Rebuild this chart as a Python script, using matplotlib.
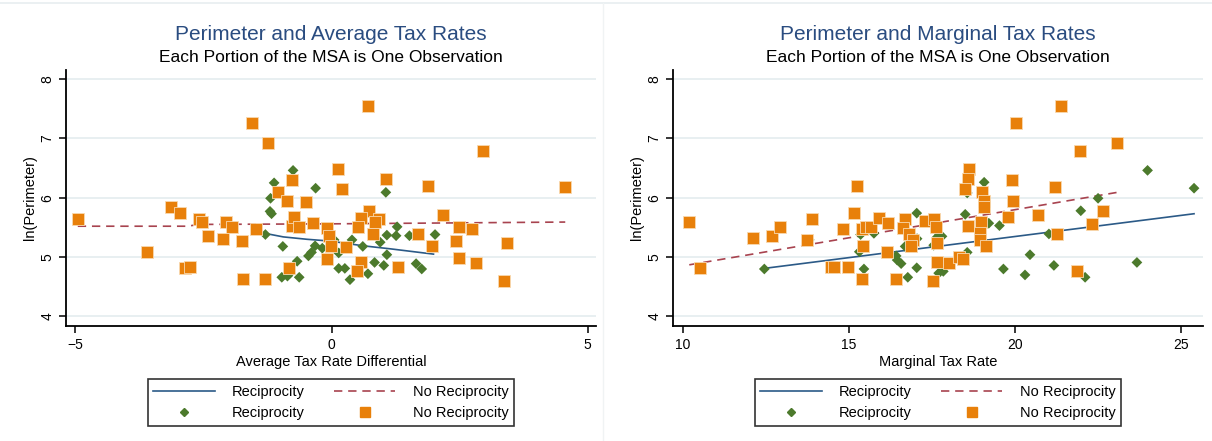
import matplotlib.pyplot as plt
from matplotlib.lines import Line2D

plt.rcParams['font.family'] = ['Liberation Sans', 'DejaVu Sans']

# average tax rate differential vs ln(perimeter)
avg_recip_x = [-1.29, -1.19, -1.12, -1.20, -1.17, -0.95, -0.97, -0.86, -0.81, -0.75,
               -0.67, -0.63, -0.45, -0.39, -0.32, -0.31, -0.18, 0.14, 0.14, 0.26,
               0.36, 0.05, 0.40, 0.61, 1.06, 0.95, 1.08, 1.28, 1.26, 1.52,
               2.02, 1.08, 0.84, 1.02, 0.71, 1.65, 1.76]
avg_recip_y = [5.38, 5.99, 6.25, 5.77, 5.73, 5.18, 4.66, 4.68, 4.73, 6.46,
               4.93, 4.66, 5.02, 5.08, 5.19, 6.16, 5.15, 5.07, 4.81, 4.81,
               4.62, 5.29, 5.29, 5.18, 6.09, 5.25, 5.37, 5.51, 5.36, 5.36,
               5.38, 5.04, 4.91, 4.86, 4.72, 4.89, 4.80]

avg_norecip_x = [-4.95, -3.60, -3.13, -2.95, -2.86, -2.76, -2.58, -2.53, -2.40, -2.11,
                 -2.06, -1.95, -1.74, -1.72, -1.55, -1.47, -1.30, -1.23, -1.05, -0.86,
                 -0.82, -0.78, -0.78, -0.73, -0.63, -0.50, -0.37, 0.12, 0.20, -0.08,
                 -0.04, -0.01, -0.08, 0.28, 0.71, 1.06, 1.88, 2.96, 4.56, 2.18,
                 0.73, 0.58, 0.93, 0.84, 0.52, 0.80, 1.69, 1.97, 2.49, 2.74,
                 2.42, 3.43, 2.49, 2.81, 3.36, 1.30, 0.58, 0.49]
avg_norecip_y = [5.64, 5.08, 5.84, 5.75, 4.81, 4.84, 5.64, 5.59, 5.35, 5.30,
                 5.59, 5.51, 5.27, 4.63, 7.25, 5.48, 4.63, 6.92, 6.10, 5.95,
                 4.82, 6.30, 5.53, 5.68, 5.50, 5.92, 5.58, 6.48, 6.15, 5.49,
                 5.35, 5.19, 4.96, 5.17, 7.55, 6.31, 6.20, 6.79, 6.18, 5.71,
                 5.78, 5.66, 5.64, 5.59, 5.51, 5.39, 5.39, 5.19, 5.50, 5.48,
                 5.27, 5.23, 4.99, 4.90, 4.60, 4.83, 4.92, 4.76]

# smoothed fits, average tax rate panel
avg_fit_recip_x = [-1.30, -0.94, -0.48, -0.03, 0.62, 1.14, 1.99]
avg_fit_recip_y = [5.40, 5.34, 5.30, 5.27, 5.19, 5.14, 5.05]
avg_fit_norecip_x = [-4.95, -2.80, -2.60, 0.00, 4.56]
avg_fit_norecip_y = [5.52, 5.52, 5.55, 5.56, 5.59]

# marginal tax rate vs ln(perimeter)
mtr_recip_x = [12.45, 13.80, 15.31, 15.35, 15.45, 15.75, 16.42, 16.45, 16.57, 16.77,
               16.69, 17.04, 17.05, 17.04, 17.72, 17.80, 17.66, 17.55, 17.70, 17.84,
               18.56, 18.50, 18.56, 19.07, 19.21, 19.08, 19.53, 19.65, 20.30, 20.45,
               21.02, 21.17, 21.98, 22.11, 22.50, 23.67, 23.99, 25.39]
mtr_recip_y = [4.80, 5.29, 5.09, 5.38, 4.80, 5.40, 5.02, 4.95, 4.89, 4.66,
               5.18, 5.74, 5.31, 4.82, 5.37, 5.35, 5.34, 5.20, 4.73, 4.76,
               5.08, 5.72, 6.08, 6.26, 5.57, 5.25, 5.53, 4.80, 4.70, 5.04,
               5.39, 4.86, 5.78, 4.66, 5.99, 4.91, 6.46, 6.16]

mtr_norecip_x = [10.19, 10.51, 12.12, 12.68, 12.92, 13.73, 13.89, 14.47, 14.55, 14.82,
                 14.97, 15.14, 15.25, 15.38, 15.51, 15.65, 15.41, 15.38, 15.89, 16.17,
                 16.14, 16.42, 16.69, 16.62, 16.82, 16.92, 16.86, 17.30, 17.56, 17.62,
                 17.66, 17.66, 18.02, 17.54, 18.32, 18.42, 18.62, 18.58, 18.50, 18.59,
                 19.00, 19.07, 19.07, 18.97, 18.95, 18.95, 19.13, 20.03, 19.91, 19.95,
                 19.79, 20.68, 21.20, 21.39, 21.96, 23.08, 21.27, 22.32, 22.64, 21.88]
mtr_norecip_y = [5.59, 4.81, 5.32, 5.35, 5.50, 5.29, 5.64, 4.83, 4.84, 5.48,
                 4.83, 5.75, 6.20, 5.48, 5.50, 5.50, 5.19, 4.63, 5.66, 5.57,
                 5.08, 4.63, 5.64, 5.49, 5.39, 5.29, 5.18, 5.60, 5.64, 5.50,
                 5.24, 4.92, 4.90, 4.60, 5.00, 4.97, 6.49, 6.31, 6.15, 5.53,
                 6.10, 5.95, 5.85, 5.59, 5.40, 5.29, 5.19, 7.26, 6.29, 5.95,
                 5.68, 5.71, 6.18, 7.55, 6.79, 6.92, 5.39, 5.55, 5.78, 4.76]

# linear fits, marginal tax rate panel
mtr_fit_recip_x = [12.45, 25.39]
mtr_fit_recip_y = [4.81, 5.73]
mtr_fit_norecip_x = [10.19, 23.08]
mtr_fit_norecip_y = [4.87, 6.09]

y_ticks = [4, 5, 6, 7, 8]

BLUE = '#2b5a87'
RED = '#a8434f'
GREEN = '#4c7a2c'
ORANGE = '#e8800a'
TITLE_BLUE = '#2a4c80'
GRID = '#e6eef0'

W, H = 1212, 441
fig = plt.figure(figsize=(W / 100, H / 100), dpi=100)

# faint frame lines around the two graph regions
fig.add_artist(Line2D([0, 1], [1 - 3 / H, 1 - 3 / H], color='#e8eef0', lw=1.2))
fig.add_artist(Line2D([603 / W, 603 / W], [0, 1 - 3 / H], color='#f0f3f4', lw=1.0))


def px_axes(x0, x1, y0, y1):
    return fig.add_axes([x0 / W, 1 - y1 / H, (x1 - x0) / W, (y1 - y0) / H])


def draw_panel(ax, title, xlabel, xlim, xticks,
               rx, ry, nx, ny, frx, fry, fnx, fny):
    ax.set_xlim(*xlim)
    ax.set_ylim(3.84, 8.15)
    for y in y_ticks:
        ax.axhline(y, color=GRID, lw=1.3, zorder=0)
    ax.plot(frx, fry, color=BLUE, lw=1.2, zorder=3)
    ax.plot(fnx, fny, color=RED, lw=1.2, ls=(0, (5, 3.5)), zorder=3)
    ax.scatter(rx, ry, marker='D', s=30, color=GREEN, edgecolors='none', zorder=4)
    ax.scatter(nx, ny, marker='s', s=70, color=ORANGE, edgecolors='#f8d9b0',
               linewidths=0.6, zorder=5)

    for side in ('top', 'right'):
        ax.spines[side].set_visible(False)
    for side in ('left', 'bottom'):
        ax.spines[side].set_linewidth(1.3)
    ax.set_xticks(xticks)
    ax.set_yticks(y_ticks)
    ax.tick_params(direction='out', length=5, width=1.1, labelsize=10)
    for lbl in ax.get_yticklabels():
        lbl.set_rotation(90)
        lbl.set_va('center')
    ax.set_ylabel('ln(Perimeter)', fontsize=10.5, labelpad=2)
    ax.set_xlabel(xlabel, fontsize=10.5, labelpad=2)

    ax.text(0.5, 1.137, title, transform=ax.transAxes, ha='center', va='center',
            fontsize=15, color=TITLE_BLUE)
    ax.text(0.5, 1.047, 'Each Portion of the MSA is One Observation',
            transform=ax.transAxes, ha='center', va='center', fontsize=12.5)

    handles = [Line2D([], [], color=BLUE, lw=1.2),
               Line2D([], [], marker='D', ms=4.5, color=GREEN, ls='none'),
               Line2D([], [], color=RED, lw=1.2, ls=(0, (5, 3.5))),
               Line2D([], [], marker='s', ms=7, color=ORANGE, ls='none')]
    labels = ['Reciprocity', 'Reciprocity', 'No Reciprocity', 'No Reciprocity']
    leg = ax.legend(handles, labels, ncol=2, loc='upper center',
                    bbox_to_anchor=(0.5, -0.18), fontsize=10.5, frameon=True,
                    fancybox=False, edgecolor='black', handlelength=4.2,
                    columnspacing=2.0, handletextpad=1.2, borderpad=0.4,
                    labelspacing=0.5)
    leg.get_frame().set_linewidth(1.2)


ax1 = px_axes(66, 596, 70, 326)
draw_panel(ax1, 'Perimeter and Average Tax Rates', 'Average Tax Rate Differential',
           (-5.18, 5.16), [-5, 0, 5],
           avg_recip_x, avg_recip_y, avg_norecip_x, avg_norecip_y,
           avg_fit_recip_x, avg_fit_recip_y, avg_fit_norecip_x, avg_fit_norecip_y)

ax2 = px_axes(673, 1203, 70, 326)
draw_panel(ax2, 'Perimeter and Marginal Tax Rates', 'Marginal Tax Rate',
           (9.70, 25.66), [10, 15, 20, 25],
           mtr_recip_x, mtr_recip_y, mtr_norecip_x, mtr_norecip_y,
           mtr_fit_recip_x, mtr_fit_recip_y, mtr_fit_norecip_x, mtr_fit_norecip_y)

fig.savefig('out.png', dpi=100)
